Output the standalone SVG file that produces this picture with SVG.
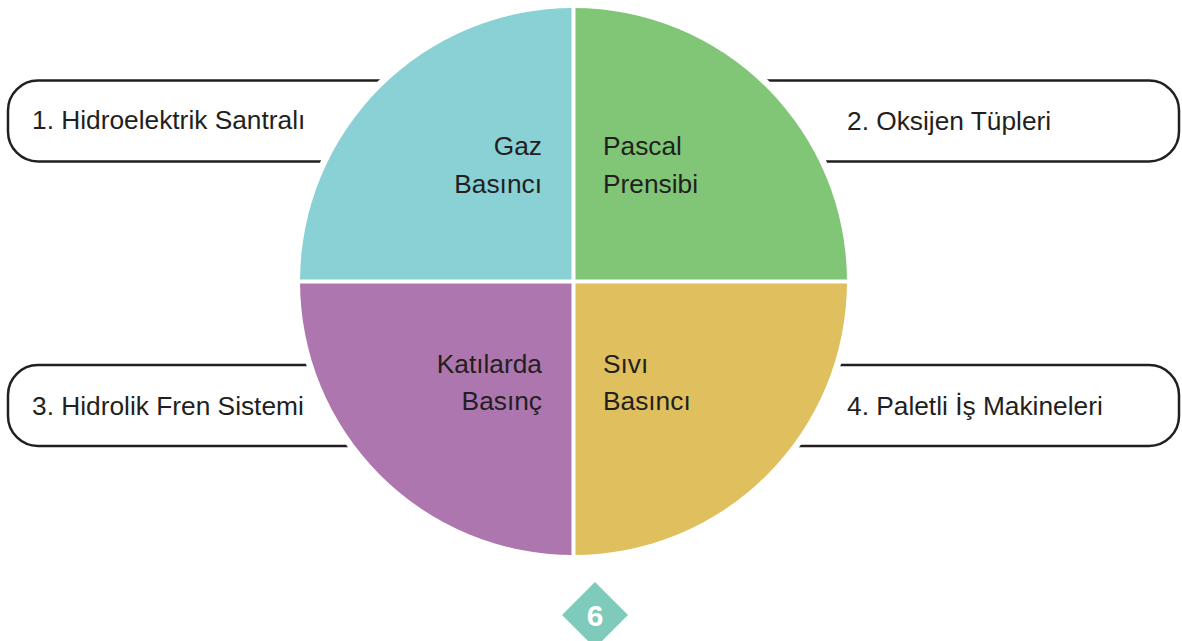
<svg xmlns="http://www.w3.org/2000/svg" width="1182" height="641" viewBox="0 0 1182 641">
<style>
.box{fill:#fff;stroke:#231F20;stroke-width:2.5}
.t{font-family:"Liberation Sans",Arial,sans-serif;font-size:26.3px;fill:#231F20}
.r{text-anchor:end}
</style>
<rect width="1182" height="641" fill="#fff"/>
<g id="box1"><rect class="box" x="8" y="80.5" width="420" height="81" rx="30"/></g>
<g id="box2"><rect class="box" x="720" y="80.5" width="459" height="81" rx="30"/></g>
<g id="box3"><rect class="box" x="8" y="365" width="420" height="81" rx="30"/></g>
<g id="box4"><rect class="box" x="720" y="365" width="459" height="81" rx="30"/></g>
<circle cx="573.5" cy="281.5" r="280" fill="#fff"/>
<g id="q1"><path d="M573.5 281.5 L573.5 8 A273.5 273.5 0 0 0 300 281.5 Z" fill="#89D1D4"/></g>
<g id="q2"><path d="M573.5 281.5 L573.5 8 A273.5 273.5 0 0 1 847 281.5 Z" fill="#80C676"/></g>
<g id="q3"><path d="M573.5 281.5 L300 281.5 A273.5 273.5 0 0 0 573.5 555 Z" fill="#AE76AF"/></g>
<g id="q4"><path d="M573.5 281.5 L847 281.5 A273.5 273.5 0 0 1 573.5 555 Z" fill="#DFBF5E"/></g>
<path d="M573.5 0 V570 M290 281.5 H860" stroke="#fff" stroke-width="4"/>
<g id="labels">
<text class="t" x="32" y="128.5">1. Hidroelektrik Santralı</text>
<text class="t" x="847" y="129.5">2. Oksijen Tüpleri</text>
<text class="t" x="32" y="414.5">3. Hidrolik Fren Sistemi</text>
<text class="t" x="847" y="414.5">4. Paletli İş Makineleri</text>
<text class="t r" x="542" y="155">Gaz</text>
<text class="t r" x="542" y="193">Basıncı</text>
<text class="t" x="603" y="155">Pascal</text>
<text class="t" x="603" y="193">Prensibi</text>
<text class="t r" x="542" y="373">Katılarda</text>
<text class="t r" x="542" y="410">Basınç</text>
<text class="t" x="603" y="373">Sıvı</text>
<text class="t" x="603" y="410">Basıncı</text>
</g>
<g id="page"><path d="M595 582 L628 615 L595 648 L562 615 Z" fill="#7ECBBB"/>
<text x="595" y="626" text-anchor="middle" font-family="Liberation Sans,Arial,sans-serif" font-weight="bold" font-size="30" fill="#fff">6</text></g>
</svg>
